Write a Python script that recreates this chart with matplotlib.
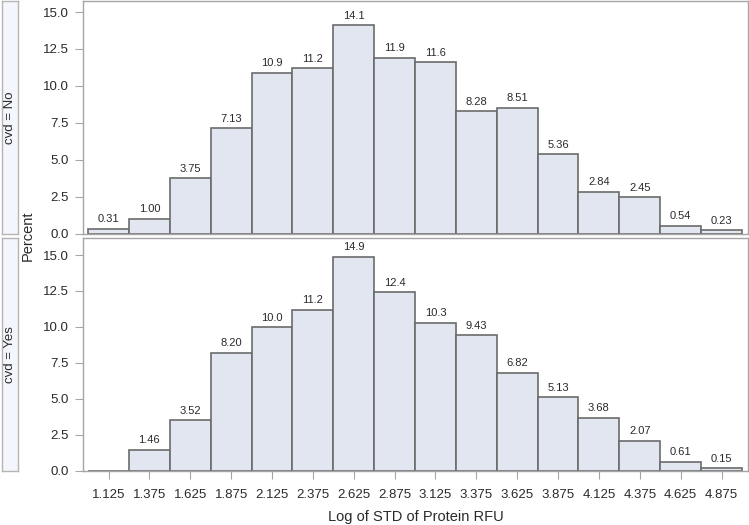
import matplotlib
matplotlib.use("Agg")
import matplotlib.pyplot as plt
import numpy as np

plt.rcParams['font.family'] = ['Liberation Sans', 'DejaVu Sans']

bin_centers = [1.125, 1.375, 1.625, 1.875, 2.125, 2.375, 2.625, 2.875,
               3.125, 3.375, 3.625, 3.875, 4.125, 4.375, 4.625, 4.875]
tick_labels = ["1.125", "1.375", "1.625", "1.875", "2.125", "2.375", "2.625", "2.875",
               "3.125", "3.375", "3.625", "3.875", "4.125", "4.375", "4.625", "4.875"]
pct_no = [0.31, 1.00, 3.75, 7.13, 10.9, 11.2, 14.1, 11.9,
          11.6, 8.28, 8.51, 5.36, 2.84, 2.45, 0.54, 0.23]
lab_no = ["0.31", "1.00", "3.75", "7.13", "10.9", "11.2", "14.1", "11.9",
          "11.6", "8.28", "8.51", "5.36", "2.84", "2.45", "0.54", "0.23"]
pct_yes = [0.0, 1.46, 3.52, 8.20, 10.0, 11.2, 14.9, 12.4,
           10.3, 9.43, 6.82, 5.13, 3.68, 2.07, 0.61, 0.15]
lab_yes = ["", "1.46", "3.52", "8.20", "10.0", "11.2", "14.9", "12.4",
           "10.3", "9.43", "6.82", "5.13", "3.68", "2.07", "0.61", "0.15"]
panels = ["cvd = No", "cvd = Yes"]
yticks = [0.0, 2.5, 5.0, 7.5, 10.0, 12.5, 15.0]
ytick_labels = ["0.0", "2.5", "5.0", "7.5", "10.0", "12.5", "15.0"]

W, H = 749, 525
fig = plt.figure(figsize=(W / 100, H / 100), dpi=100)

def fx(px):
    return px / W

def fy(top, bottom):
    return (H - bottom) / H, (bottom - top) / H

bar_fc = "#E1E6F0"
bar_ec = "#6B6B6B"
spine_c = "#A5A5A5"
text_c = "#2A2A2A"

axes_px = [(1, 233.5, 15.75), (238, 470.5, 16.19)]
data = [(pct_no, lab_no), (pct_yes, lab_yes)]

axs = []
for i, ((top, bot, ytop), (vals, labs)) in enumerate(zip(axes_px, data)):
    b, h = fy(top, bot)
    ax = fig.add_axes([fx(83), b, fx(748 - 83), h])
    ax.bar(bin_centers, vals, width=0.25, color=bar_fc, edgecolor=bar_ec, linewidth=1.2)
    for x, v, l in zip(bin_centers, vals, labs):
        if l:
            ax.text(x, v + 0.3, l, ha="center", va="bottom", fontsize=8, color=text_c)
    ax.set_xlim(0.969, 5.037)
    ax.set_ylim(0, ytop)
    ax.set_yticks(yticks)
    ax.set_yticklabels(ytick_labels, fontsize=9.5, color=text_c)
    ax.set_xticks(bin_centers)
    if i == 1:
        ax.set_xticklabels(tick_labels, fontsize=9.5, color=text_c)
        ax.tick_params(axis="x", length=6, color=spine_c, pad=7)
    else:
        ax.tick_params(axis="x", length=0, labelbottom=False)
    ax.tick_params(axis="y", length=6, color=spine_c, pad=4)
    for s in ax.spines.values():
        s.set_color(spine_c)
        s.set_linewidth(1.0)
    axs.append(ax)

    # strip
    sax = fig.add_axes([fx(2), b, fx(16), h])
    sax.set_facecolor("#F4F6FD")
    sax.set_xticks([])
    sax.set_yticks([])
    for s in sax.spines.values():
        s.set_color("#B5B5B5")
        s.set_linewidth(1.0)
    sax.text(0.5, 0.5, panels[i], rotation=90, ha="center", va="center",
             fontsize=9.5, color=text_c, transform=sax.transAxes)

fig.text((83 + 748) / 2 / W, (H - 517) / H, "Log of STD of Protein RFU",
         ha="center", va="center", fontsize=10.5, color=text_c)
fig.text(fx(28), (H - 236) / H, "Percent", rotation=90, ha="center", va="center",
         fontsize=10.5, color=text_c)

fig.savefig("out.png", dpi=100)
